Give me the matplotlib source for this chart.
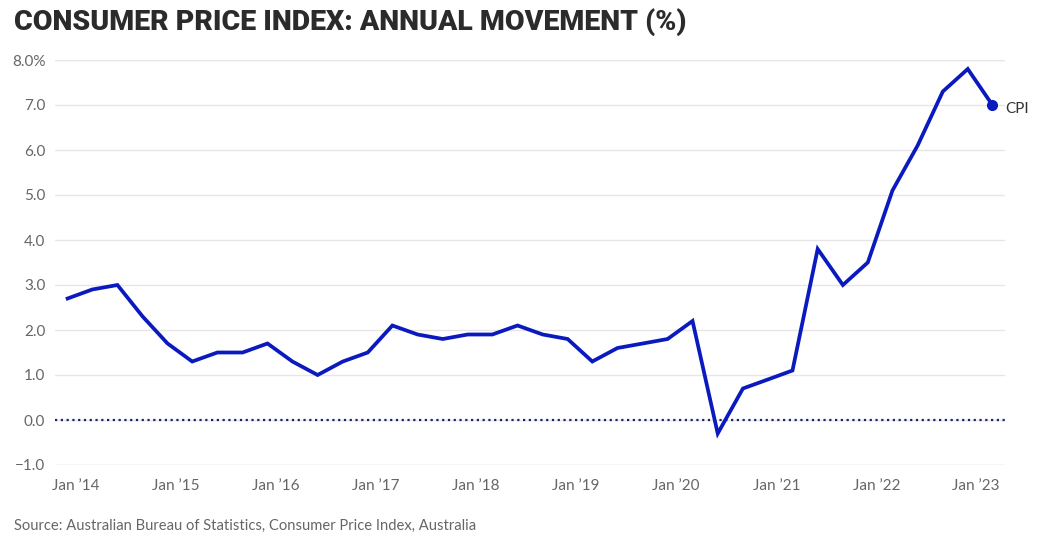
import datetime as dt
import matplotlib
matplotlib.use("Agg")
import matplotlib.pyplot as plt
import matplotlib.dates as mdates
import matplotlib.ticker as mticker

# quarterly CPI annual movement, Dec 2013 .. Mar 2023
start_year, start_month = 2013, 12
cpi = [2.7, 2.9, 3.0, 2.3, 1.7, 1.3, 1.5, 1.5, 1.7, 1.3, 1.0, 1.3, 1.5,
       2.1, 1.9, 1.8, 1.9, 1.9, 2.1, 1.9, 1.8, 1.3, 1.6, 1.7, 1.8,
       2.2, -0.3, 0.7, 0.9, 1.1, 3.8, 3.0, 3.5, 5.1, 6.1, 7.3, 7.8, 7.0]
tick_years = list(range(2014, 2024))
y_ticks = [-1, 0, 1, 2, 3, 4, 5, 6, 7, 8]

dates = []
for i in range(len(cpi)):
    m = start_month - 1 + 3 * i
    dates.append(dt.date(start_year + m // 12, m % 12 + 1, 1))

plt.rcParams['font.family'] = ['Lato', 'DejaVu Sans']

fig = plt.figure(figsize=(10.46, 5.47), dpi=100)
ax = fig.add_axes([55 / 1046, 1 - 465 / 547, 950 / 1046, 405 / 547])

blue = '#0a1abf'
ax.plot(dates, cpi, color=blue, lw=2.7, solid_joinstyle='miter', zorder=3)
ax.plot(dates[-1], cpi[-1], 'o', color=blue, ms=7, zorder=4)
ax.annotate("CPI", (dates[-1], cpi[-1]), xytext=(9, -3), textcoords='offset points',
            va='center', ha='left', fontsize=11, color='#333333')

ax.axhline(0, color='#1a2370', lw=1.6, ls=(0, (1, 1.6)), zorder=2)

ax.set_ylim(-1, 8)
ax.set_xlim(dt.date(2013, 10, 16), dt.date(2023, 4, 16))
ax.set_yticks(y_ticks)
ax.yaxis.set_major_formatter(mticker.FuncFormatter(
    lambda v, p: ("%.1f%%" % v) if v == 8 else ("%.1f" % v).replace('-', '\u2212')))
ax.set_xticks([dt.date(y, 1, 1) for y in tick_years])
ax.set_xticklabels(["Jan \u2019%02d" % (y % 100) for y in tick_years])

ax.grid(axis='y', color='#e6e6e6', lw=1)
for v in [-1, 8]:
    ax.axhline(v, color='#e6e6e6', lw=1, zorder=1)
ax.set_axisbelow(True)
for s in ax.spines.values():
    s.set_visible(False)
ax.tick_params(length=0, labelsize=11, labelcolor='#666666')
ax.tick_params(axis='x', pad=10)
ax.tick_params(axis='y', pad=7)

fig.text(14 / 1046, 1 - 22 / 547, "CONSUMER PRICE INDEX: ANNUAL MOVEMENT (%)",
         family=['Roboto', 'DejaVu Sans'], fontsize=20.5, fontweight='black',
         color='#2b2b2b', va='center', ha='left')
fig.text(14 / 1046, 1 - 526 / 547, "Source: Australian Bureau of Statistics, Consumer Price Index, Australia",
         fontsize=10.6, color='#666666', va='center', ha='left')

fig.savefig("out.png", dpi=100)
